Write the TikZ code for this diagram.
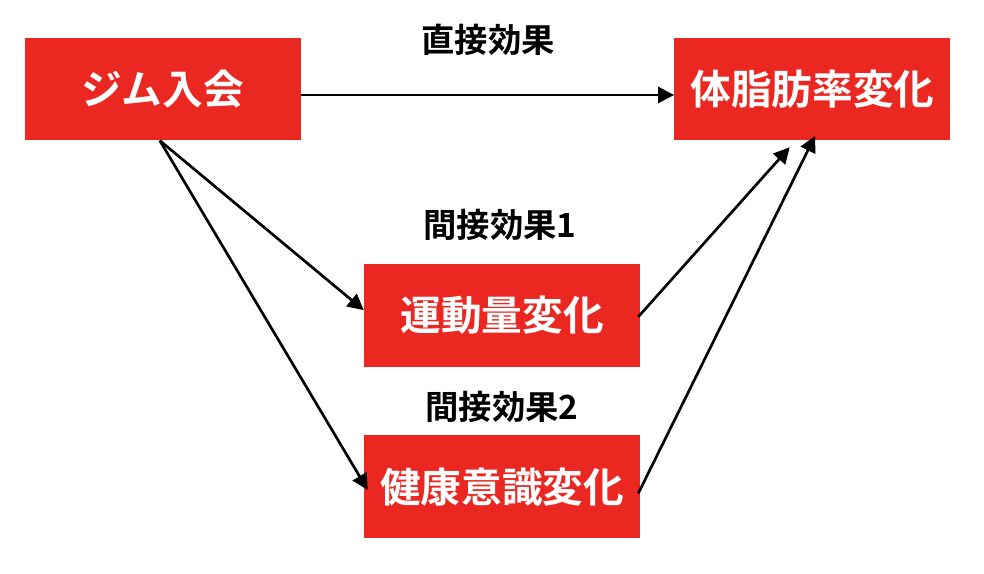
\documentclass[tikz,border=0pt]{standalone}
\usepackage{fontspec}
\newfontfamily\jpfont{Noto Sans CJK JP Bold}
\usepackage{xcolor}
\usepackage{tikz}
\usetikzlibrary{arrows.meta,positioning}

\definecolor{boxred}{RGB}{234,39,33}

\begin{document}
\begin{tikzpicture}[
    x=0.75pt, y=-0.75pt,
    box/.style={fill=boxred, text=white, minimum width=207pt, minimum height=77pt,
                inner sep=0pt, font=\jpfont\fontsize{30.5pt}{34pt}\selectfont},
    effect/.style={font=\jpfont\fontsize{25pt}{28pt}\selectfont, inner sep=0pt},
    arrow/.style={-{Triangle[length=12pt, width=12pt]}, line width=2pt},
]
\useasboundingbox (0,0) rectangle (984,574);

% ---------- Boxes ----------
\node[box] (gym) at (162.5,89) {ジム入会};
\node[box, right=280pt of gym] (fat) {体脂肪率変化};
\node[box] (exercise) at (502,315.5) {運動量変化};
\node[box, below=51pt of exercise] (health) {健康意識変化};

% ---------- Effect labels ----------
\node[effect] (direct) at (488,40) {直接効果};
\node[effect] (indirect1) at (500,225) {間接効果1};
\node[effect] (indirect2) at (502,407) {間接効果2};

% ---------- Arrows ----------
\draw[arrow] ([yshift=-4.5pt]gym.east) -- ([yshift=-4.5pt]fat.west);
\draw[arrow] ([xshift=-2pt]gym.south) -- ([yshift=4pt]exercise.west);
\draw[arrow] ([xshift=-2pt]gym.south) -- ([xshift=3pt, yshift=-2.5pt]health.west);
\draw[arrow] ([xshift=-1.5pt, yshift=-1pt]exercise.east) -- ([xshift=-17pt, yshift=-5pt]fat.south);
\draw[arrow] ([xshift=-1.5pt, yshift=-5pt]health.east) -- ([xshift=2pt, yshift=3.5pt]fat.south);

\end{tikzpicture}
\end{document}
